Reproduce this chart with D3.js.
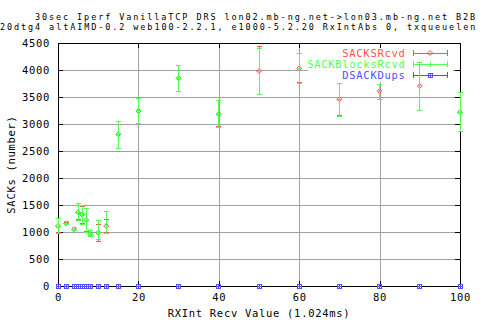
<!DOCTYPE html>
<html>
<head>
<meta charset="utf-8">
<script src="https://cdn.jsdelivr.net/npm/d3@7/dist/d3.min.js"></script>
<style>
  body { margin: 0; background: #fff; }
  svg text { font-family: "DejaVu Sans Mono", monospace; font-size: 10.5px; letter-spacing: 0.7px; fill: #000; }
  svg text.title { font-size: 8.5px; letter-spacing: 1.9px; }
</style>
</head>
<body>
<div id="chart"></div>
<script>
// RXInt values (x)
var rxInt = [0, 2, 4, 5, 6, 7, 8, 10, 12, 15, 20, 30, 40, 50, 60, 70, 80, 90, 100];

// SACKSRcvd: mean, low, high
var sacksMean = [1110, 1160, 1050, 1365, 1325, 1222, 960, 987, 1111, 2809, 3241, 3846, 3185, 3981, 4031, 3457, 3611, 3704, 3217];
var sacksLow  = [985, 1135, 1035, 1225, 1150, 1010, 925, 820, 1000, 2555, 3015, 3610, 2945, 3555, 3760, 3150, 3460, 3245, 2855];
var sacksHigh = [1250, 1185, 1075, 1535, 1480, 1430, 1030, 1142, 1235, 3045, 3470, 4080, 3435, 4430, 4305, 3750, 3730, 4140, 3575];

// SACKBlocksRcvd: mean, low, high
var blocksMean = [1110, 1160, 1050, 1365, 1327, 1222, 962, 987, 1115, 2809, 3241, 3846, 3185, 3981, 4031, 3457, 3611, 3704, 3217];
var blocksLow  = [980, 1130, 1030, 1220, 1130, 1000, 915, 870, 975, 2550, 3013, 3605, 2939, 3550, 3754, 3143, 3457, 3241, 2852];
var blocksHigh = [1255, 1190, 1080, 1535, 1500, 1440, 1035, 1222, 1376, 3050, 3476, 4087, 3439, 4400, 4309, 3754, 3735, 4143, 3580];

// DSACKDups: all zero
var dsackMean = [0, 0, 0, 0, 0, 0, 0, 0, 0, 0, 0, 0, 0, 0, 0, 0, 0, 0, 0];
var dsackLow  = [0, 0, 0, 0, 0, 0, 0, 0, 0, 0, 0, 0, 0, 0, 0, 0, 0, 0, 0];
var dsackHigh = [0, 0, 0, 0, 0, 0, 0, 0, 0, 0, 0, 0, 0, 0, 0, 0, 0, 0, 0];

var xTicks = [0, 20, 40, 60, 80, 100];
var yTicks = [0, 500, 1000, 1500, 2000, 2500, 3000, 3500, 4000, 4500];

var seriesNames = ["SACKSRcvd", "SACKBlocksRcvd", "DSACKDups"];
var titleLines = [
  "30sec Iperf VanillaTCP DRS lon02.mb-ng.net->lon03.mb-ng.net B2B",
  "20dtg4 altAIMD-0.2 web100-2.2.1, e1000-5.2.20 RxIntAbs 0, txqueuelen"
];

// set the dimensions and margins of the graph
var margin = { top: 43, right: 20, bottom: 34, left: 58 },
    width = 480 - margin.left - margin.right,
    height = 320 - margin.top - margin.bottom;

var colors = ["#ff5050", "#50ff50", "#5050ff"];

var root = d3.select("#chart")
    .append("svg")
    .attr("width", 480)
    .attr("height", 320);

// titles (left aligned where they start in the picture)
root.append("text").attr("class", "title").attr("x", 35).attr("y", 19.5).text(titleLines[0]);
root.append("text").attr("class", "title").attr("x", 0).attr("y", 29.5).text(titleLines[1]);

var svg = root.append("g")
    .attr("transform", "translate(" + margin.left + "," + margin.top + ")");

var x = d3.scaleLinear().domain([0, 100]).range([0, width]);
var y = d3.scaleLinear().domain([0, 4500]).range([height, 0]);

// grid
svg.append("g")
    .attr("class", "grid")
    .call(d3.axisLeft(y).tickValues(yTicks).tickSize(-width).tickFormat(""))
    .call(function (g) { g.select(".domain").remove(); });
svg.append("g")
    .attr("class", "grid")
    .attr("transform", "translate(0," + height + ")")
    .call(d3.axisBottom(x).tickValues(xTicks).tickSize(-height).tickFormat(""))
    .call(function (g) { g.select(".domain").remove(); });
svg.selectAll(".grid line")
    .attr("stroke", "#a0a0a0")
    .attr("shape-rendering", "crispEdges");

// the key blanks the area behind it
svg.append("rect")
    .attr("x", 250).attr("y", 4)
    .attr("width", 145).attr("height", 35)
    .attr("fill", "#fff");

// axes with mirrored inner ticks
var yAxis = svg.append("g")
    .call(d3.axisLeft(y).tickValues(yTicks).tickSize(-5).tickPadding(8).tickFormat(d3.format("d")));
var xAxis = svg.append("g")
    .attr("transform", "translate(0," + height + ")")
    .call(d3.axisBottom(x).tickValues(xTicks).tickSize(-5).tickPadding(7.5).tickFormat(d3.format("d")));
var yAxisR = svg.append("g")
    .attr("transform", "translate(" + width + ",0)")
    .call(d3.axisRight(y).tickValues(yTicks).tickSize(-5).tickFormat(""));
var xAxisT = svg.append("g")
    .call(d3.axisTop(x).tickValues(xTicks).tickSize(-5).tickFormat(""));

[yAxis, xAxis, yAxisR, xAxisT].forEach(function (a) {
  a.attr("font-family", null).attr("font-size", null);
  a.select(".domain").remove();
  a.selectAll("line").attr("stroke", "#000").attr("shape-rendering", "crispEdges");
  a.selectAll("text").attr("fill", "#000");
});

// border
svg.append("rect")
    .attr("width", width).attr("height", height)
    .attr("fill", "none").attr("stroke", "#000")
    .attr("shape-rendering", "crispEdges");

// axis titles
svg.append("text")
    .attr("transform", "translate(" + (15 - margin.left) + "," + (height / 2) + ") rotate(-90)")
    .style("text-anchor", "middle")
    .text("SACKs (number)");
svg.append("text")
    .attr("x", width / 2)
    .attr("y", height + 30.5)
    .style("text-anchor", "middle")
    .text("RXInt Recv Value (1.024ms)");

// point symbols: diamond, plus, box
function drawPoint(g, type, cx, cy, color) {
  if (type == 0) {
    g.append("path")
      .attr("d", "M" + cx + "," + (cy - 2.5) + "L" + (cx + 2.5) + "," + cy + "L" + cx + "," + (cy + 2.5) + "L" + (cx - 2.5) + "," + cy + "Z")
      .attr("fill", "none").attr("stroke", color);
  } else if (type == 1) {
    g.append("path")
      .attr("d", "M" + (cx - 2.5) + "," + cy + "H" + (cx + 2.5) + "M" + cx + "," + (cy - 2.5) + "V" + (cy + 2.5))
      .attr("stroke", color).attr("shape-rendering", "crispEdges");
  } else {
    g.append("rect")
      .attr("x", cx - 2).attr("y", cy - 2).attr("width", 4).attr("height", 4)
      .attr("fill", "none").attr("stroke", color).attr("shape-rendering", "crispEdges");
    g.append("path")
      .attr("d", "M" + (cx - 2) + "," + cy + "H" + (cx + 2) + "M" + cx + "," + (cy - 2) + "V" + (cy + 2))
      .attr("stroke", color).attr("shape-rendering", "crispEdges");
  }
}

// key
var key = svg.append("g");
seriesNames.forEach(function (name, i) {
  var ky = 10 + i * 11;
  key.append("text")
    .attr("x", 347.5).attr("y", ky + 3.5)
    .style("text-anchor", "end")
    .style("fill", colors[i])
    .text(name);
  key.append("path")
    .attr("d", "M355," + ky + "H389M355," + (ky - 3) + "V" + (ky + 3) + "M389," + (ky - 3) + "V" + (ky + 3))
    .attr("stroke", colors[i]).attr("fill", "none")
    .attr("shape-rendering", "crispEdges");
  drawPoint(key, i, 372, ky, colors[i]);
});

// error bars with caps
var seriesData = [
  [sacksMean, sacksLow, sacksHigh],
  [blocksMean, blocksLow, blocksHigh],
  [dsackMean, dsackLow, dsackHigh]
];

seriesData.forEach(function (s, i) {
  var g = svg.append("g");
  rxInt.forEach(function (v, j) {
    var cx = x(v), lo = y(s[1][j]), hi = y(s[2][j]);
    g.append("path")
      .attr("d", "M" + cx + "," + lo + "V" + hi +
                 "M" + (cx - 2.5) + "," + lo + "H" + (cx + 2.5) +
                 "M" + (cx - 2.5) + "," + hi + "H" + (cx + 2.5))
      .attr("stroke", colors[i]).attr("fill", "none")
      .attr("shape-rendering", "crispEdges");
    drawPoint(g, i, cx, y(s[0][j]), colors[i]);
  });
});
</script>
</body>
</html>
